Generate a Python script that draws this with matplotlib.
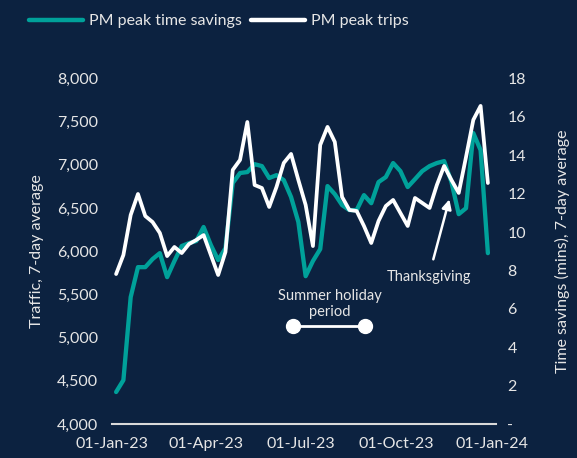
# -*- coding: utf-8 -*-
# PM peak trips vs time savings, weekly points of 7-day averages
import numpy as np
import pandas as pd
import matplotlib
matplotlib.use("Agg")
import matplotlib.pyplot as plt
import matplotlib.dates as mdates
from matplotlib.ticker import FuncFormatter, MultipleLocator

# Data
fechas = pd.date_range("2023-01-05", periods=52, freq="7D")
viajes = [5736, 5956, 6419, 6662, 6407, 6338, 6211, 5944, 6049, 5979,
          6083, 6130, 6187, 5956, 5725, 5991, 6940, 7056, 7495, 6766,
          6731, 6512, 6743, 7021, 7125, 6824, 6535, 6060, 7229, 7438,
          7264, 6627, 6477, 6465, 6292, 6095, 6350, 6523, 6593, 6442,
          6292, 6616, 6558, 6500, 6766, 6986, 6824, 6674, 7090, 7519,
          7681, 6789]
ahorro = [1.67, 2.29, 6.61, 8.17, 8.17, 8.59, 8.90, 7.65, 8.49, 9.27,
          9.42, 9.53, 10.26, 9.32, 8.54, 9.16, 12.55, 13.07, 13.12, 13.53,
          13.43, 12.81, 12.96, 12.70, 11.82, 10.52, 7.70, 8.49, 9.11, 12.39,
          11.97, 11.40, 11.14, 11.14, 11.92, 11.50, 12.60, 12.86, 13.59, 13.17,
          12.34, 12.75, 13.17, 13.43, 13.59, 13.69, 12.60, 10.93, 11.24, 15.15,
          14.26, 8.90]

verano = [pd.Timestamp("2023-06-24"), pd.Timestamp("2023-09-01")]
thanksgiving = pd.Timestamp("2023-11-21")

# Colores
fondo = "#0c2240"
teal = "#00a19a"
blanco = "#ffffff"
gris = "#e6e6e6"

plt.rcParams["font.family"] = ["Lato", "DejaVu Sans"]
plt.rcParams["font.size"] = 11.5

fig = plt.figure(figsize=(5.77, 4.58), dpi=100, facecolor=fondo)
ax = fig.add_axes([0.194, 0.074, 0.666, 0.755])
ax2 = ax.twinx()

# Linea de ahorro de tiempo (eje derecho) debajo de los viajes
ax2.plot(fechas, ahorro, color=teal, lw=3.1, solid_capstyle="round",
         solid_joinstyle="round", label="PM peak time savings")
ax.plot(fechas, viajes, color=blanco, lw=2.7, solid_capstyle="round",
        solid_joinstyle="round", label="PM peak trips")
ax.set_zorder(ax2.get_zorder() + 1)
ax.patch.set_visible(False)
ax2.patch.set_facecolor(fondo)

# Anotaciones
ax.plot(verano, [5134, 5134], color=blanco, lw=2, marker="o", markersize=10)
ax.text(pd.Timestamp("2023-07-29"), 5390, "Summer holiday\nperiod", color=gris,
        ha="center", va="center", fontsize=10.5, linespacing=1.25)
ax.annotate("Thanksgiving", xy=(thanksgiving, 6600), xytext=(pd.Timestamp("2023-11-01"), 5700),
            color=gris, ha="center", va="center", fontsize=10.5,
            arrowprops=dict(arrowstyle="-|>", color=blanco, lw=1.8,
                            mutation_scale=14, shrinkA=6, shrinkB=0))

# Ejes
ax.set_xlim(pd.Timestamp("2023-01-01"), pd.Timestamp("2024-01-05"))
ax.set_ylim(4000, 8000)
ax2.set_ylim(0, 18)
ax.yaxis.set_major_locator(MultipleLocator(500))
ax.yaxis.set_major_formatter(FuncFormatter(lambda v, p: f"{v:,.0f}"))
ax2.yaxis.set_major_locator(MultipleLocator(2))
ax2.yaxis.set_major_formatter(FuncFormatter(lambda v, p: "-" if v == 0 else f"{v:.0f}"))
ax.set_xticks(pd.to_datetime(["2023-01-01", "2023-04-01", "2023-07-01",
                              "2023-10-01", "2024-01-01"]))
ax.xaxis.set_major_formatter(mdates.DateFormatter("%d-%b-%y"))

for a in (ax, ax2):
    for s in ("top", "left", "right", "bottom"):
        a.spines[s].set_visible(False)
    a.tick_params(length=0, colors=gris, labelsize=11.5)
ax.spines["bottom"].set_visible(True)
ax.spines["bottom"].set_color("#d9d9d9")
ax.spines["bottom"].set_linewidth(1.5)
ax.tick_params(axis="y", pad=10)
ax2.tick_params(axis="y", pad=8)
ax.tick_params(axis="x", pad=9)

ax.set_ylabel("Traffic, 7-day average", color=gris, fontsize=11.5, labelpad=9)
ax2.set_ylabel("Time savings (mins), 7-day average", color=gris, fontsize=11.5, labelpad=21)

# Leyenda
h1, l1 = ax2.get_legend_handles_labels()
h2, l2 = ax.get_legend_handles_labels()
leg = fig.legend(h1 + h2, l1 + l2, loc="center left", bbox_to_anchor=(0.025, 0.954),
                 ncol=2, frameon=False, handlelength=3.4, handletextpad=0.35,
                 columnspacing=0.6, labelcolor=gris, fontsize=11.5)
for linea in leg.get_lines():
    linea.set_linewidth(3.2)

fig.savefig("out.png", dpi=100, facecolor=fondo)
